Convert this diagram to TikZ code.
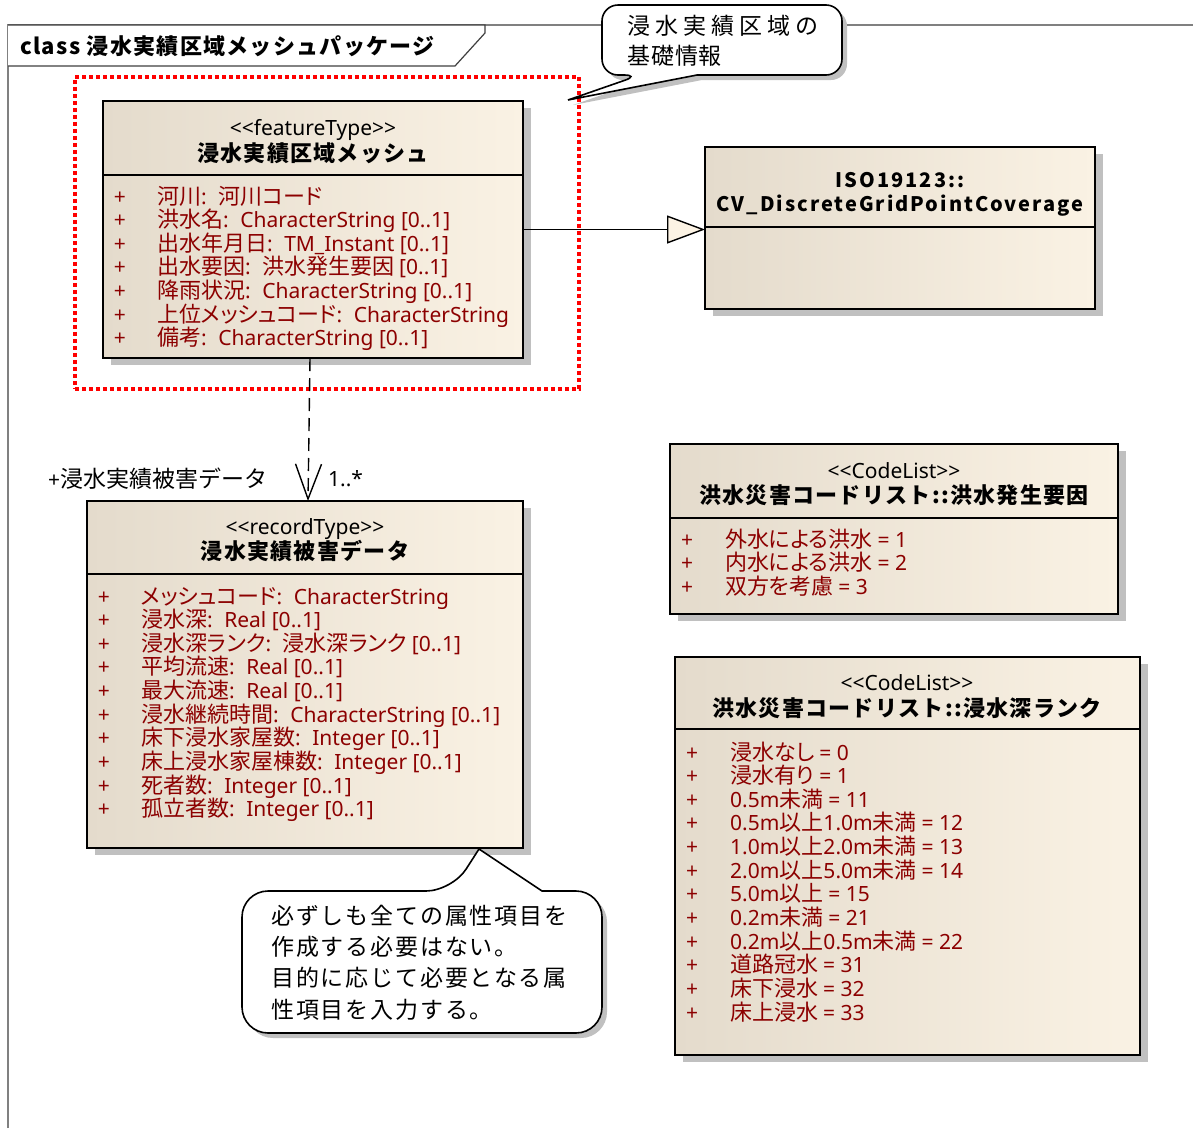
\documentclass[tikz,border=0pt]{standalone}
\usepackage{fontspec}
\setmainfont{Noto Sans CJK JP}
\newfontfamily\lat{Noto Sans}
\usetikzlibrary{arrows.meta,shadows,calc}
\definecolor{attrred}{RGB}{140,0,0}
\definecolor{boxl}{RGB}{228,219,204}
\definecolor{boxr}{RGB}{250,242,228}
\definecolor{shad}{RGB}{192,192,192}
\definecolor{tri}{RGB}{252,243,228}
\newcommand\La[1]{{\lat\fontsize{21}{24}\selectfont #1}}
\newcommand\Co{\La{:\ }\hspace{6pt}}
\newcommand\attrlist[5]{%
  \foreach \t [count=\i] in {#5}{%
    \node[attr,anchor=base] (#1p\i) at (#2,{#4+23.65*(\i-1)}) {\La{+}};
    \node[attr,anchor=base west] (#1t\i) at (#3,{#4+23.65*(\i-1)}) {\t};
  }}
\newcommand\noteApath{(720,75) [rounded corners=16pt] -- (842,75) -- (842,5) -- (602,5) -- (602,75) -- (640,75) [sharp corners] -- (568,100) -- (697,75) -- cycle}
\newcommand\noteBpath{(570,891) [rounded corners=26pt] -- (602,891) -- (602,1033) -- (242,1033) -- (242,891) -- (452,891) [sharp corners] -- (479,849) -- (542,891) -- cycle}
\begin{document}
\begin{tikzpicture}[x=1pt,y=-1pt,
  classbox/.style={draw=black, line width=1.6pt, left color=boxl, right color=boxr, anchor=north west, inner sep=0pt, outer sep=0pt, drop shadow={shadow xshift=8pt, shadow yshift=-7pt, fill=shad, opacity=1}},
  sepline/.style={draw=black, line width=1.6pt},
  stereo/.style={anchor=base, inner sep=0pt, font=\lat\fontsize{21}{24}\selectfont},
  ctitle/.style={anchor=base, inner sep=0pt, font=\fontsize{22}{24}\selectfont\bfseries\addfontfeature{LetterSpace=6}},
  attr/.style={text=attrred, inner sep=0pt, font=\fontsize{22}{24}\selectfont\addfontfeature{RawFeature=+palt}},
  notebox/.style={draw=black, fill=white, line width=1.6pt},
  notetext/.style={anchor=base west, inner sep=0pt, font=\fontsize{23}{24}\selectfont},
  lbl/.style={anchor=base west, inner sep=0pt, font=\fontsize{23}{24}\selectfont},
  conn/.style={draw=black, line width=1.4pt}]
\fill[white] (0,0) rectangle (1193,1128);
\useasboundingbox (0,0) rectangle (1193,1128);

% package frame
\draw[gray, line width=1.2pt] (8,1128) -- (8,25) -- (1193,25);
\draw[black!75, line width=1.2pt, fill=white] (8,25) -- (485,25) -- (485,33) -- (455,66) -- (8,66);
\node[anchor=base west, inner sep=0pt, font=\fontsize{22}{24}\selectfont\bfseries\addfontfeature{LetterSpace=6}] (pkg) at (20,54) {class 浸水実績区域メッシュパッケージ};

% red dotted group
\node[draw=red, line width=3.5pt, dash pattern=on 4pt off 3pt, minimum width=504pt, minimum height=312pt, anchor=north west, inner sep=0pt] (grp) at (73,75) {};

% class 1
\node[classbox, minimum width=420pt, minimum height=257pt] (c1) at (103,101) {};
\draw[sepline] ($(c1.north west)+(0,74)$) -- ($(c1.north east)+(0,74)$);
\node[stereo] (c1st) at (313,135) {<{}<featureType>{}>};
\node[ctitle] (c1nm) at (313,161) {浸水実績区域メッシュ};
\attrlist{c1}{120}{157}{204}{
  河川\Co 河川コード,
  洪水名\Co \La{CharacterString [0..1]},
  出水年月日\Co \La{TM\_Instant [0..1]},
  出水要因\Co 洪水発生要因 \La{[0..1]},
  降雨状況\Co \La{CharacterString [0..1]},
  上位メッシュコード\Co \La{CharacterString},
  備考\Co \La{CharacterString [0..1]}}

% class 2
\node[classbox, minimum width=390pt, minimum height=162pt] (c2) at (705,147) {};
\draw[sepline] ($(c2.north west)+(0,80)$) -- ($(c2.north east)+(0,80)$);
\node[anchor=base, inner sep=0pt, font=\fontsize{20}{24}\selectfont\bfseries\addfontfeature{LetterSpace=10}] (c2a) at (900,187) {ISO19123::};
\node[anchor=base, inner sep=0pt, font=\fontsize{20}{24}\selectfont\bfseries\addfontfeature{LetterSpace=10}] (c2b) at (900,211) {CV\_DiscreteGridPointCoverage};

% class 3
\node[classbox, minimum width=436pt, minimum height=347pt] (c3) at (87,501) {};
\draw[sepline] ($(c3.north west)+(0,73)$) -- ($(c3.north east)+(0,73)$);
\node[stereo] (c3st) at (305,534) {<{}<recordType>{}>};
\node[ctitle] (c3nm) at (305,559) {浸水実績被害データ};
\attrlist{c3}{104}{141}{604}{
  メッシュコード\Co \La{CharacterString},
  浸水深\Co \La{Real [0..1]},
  浸水深ランク\Co 浸水深ランク \La{[0..1]},
  平均流速\Co \La{Real [0..1]},
  最大流速\Co \La{Real [0..1]},
  浸水継続時間\Co \La{CharacterString [0..1]},
  床下浸水家屋数\Co \La{Integer [0..1]},
  床上浸水家屋棟数\Co \La{Integer [0..1]},
  死者数\Co \La{Integer [0..1]},
  孤立者数\Co \La{Integer [0..1]}}

% class 4
\node[classbox, minimum width=448pt, minimum height=170pt] (c4) at (670,444) {};
\draw[sepline] ($(c4.north west)+(0,74)$) -- ($(c4.north east)+(0,74)$);
\node[stereo] (c4st) at (894,478) {<{}<CodeList>{}>};
\node[ctitle] (c4nm) at (894,503) {洪水災害コードリスト::洪水発生要因};
\attrlist{c4}{687}{725}{547}{
  外水による洪水 \La{= 1},
  内水による洪水 \La{= 2},
  双方を考慮 \La{= 3}}

% class 5
\node[classbox, minimum width=465pt, minimum height=398pt] (c5) at (675,657) {};
\draw[sepline] ($(c5.north west)+(0,72)$) -- ($(c5.north east)+(0,72)$);
\node[stereo] (c5st) at (907,690) {<{}<CodeList>{}>};
\node[ctitle] (c5nm) at (907,716) {洪水災害コードリスト::浸水深ランク};
\attrlist{c5}{692}{730}{760}{
  浸水なし \La{= 0},
  浸水有り \La{= 1},
  \La{0.5m}未満 \La{= 11},
  \La{0.5m}以上\La{1.0m}未満 \La{= 12},
  \La{1.0m}以上\La{2.0m}未満 \La{= 13},
  \La{2.0m}以上\La{5.0m}未満 \La{= 14},
  \La{5.0m}以上 \La{= 15},
  \La{0.2m}未満 \La{= 21},
  \La{0.2m}以上\La{0.5m}未満 \La{= 22},
  道路冠水 \La{= 31},
  床下浸水 \La{= 32},
  床上浸水 \La{= 33}}

% connectors
\draw[conn, -{Triangle[length=38pt,width=28pt,fill=tri]}] (c1.east) -- (c1.east -| c2.west);
\draw[conn, dash pattern=on 13pt off 7pt, -{Straight Barb[length=35pt,width=26pt]}] ($(c1.south west)+(207,0)$) -- ($(c3.north west)+(221,0)$);
\node[lbl] (role) at (48,487) {\La{+}浸水実績被害データ};
\node[lbl] (mult) at (328,486) {\La{1..*}};

% note 1
\coordinate (n1tip) at (568,100);
\fill[shad, shift={(5,5)}] \noteApath;
\draw[notebox] \noteApath;
\node[notetext, font=\fontsize{23}{24}\selectfont\addfontfeature{LetterSpace=22}] (n1a) at (627,34) {浸水実績区域の};
\node[notetext, font=\fontsize{23}{24}\selectfont\addfontfeature{LetterSpace=4}] (n1b) at (627,64) {基礎情報};

% note 2
\coordinate (n2tip) at ($(c3.south west)+(392,0)$);
\fill[shad, shift={(5,5)}] \noteBpath;
\draw[notebox] \noteBpath;
\begin{scope}[every node/.style={notetext, font=\fontsize{23}{24}\selectfont\addfontfeature{LetterSpace=8}}]
\node (n2a) at (271,924) {必ずしも全ての属性項目を};
\node (n2b) at (271,955) {作成する必要はない。};
\node (n2c) at (271,986) {目的に応じて必要となる属};
\node (n2d) at (271,1018) {性項目を入力する。};
\end{scope}
\end{tikzpicture}
\end{document}
